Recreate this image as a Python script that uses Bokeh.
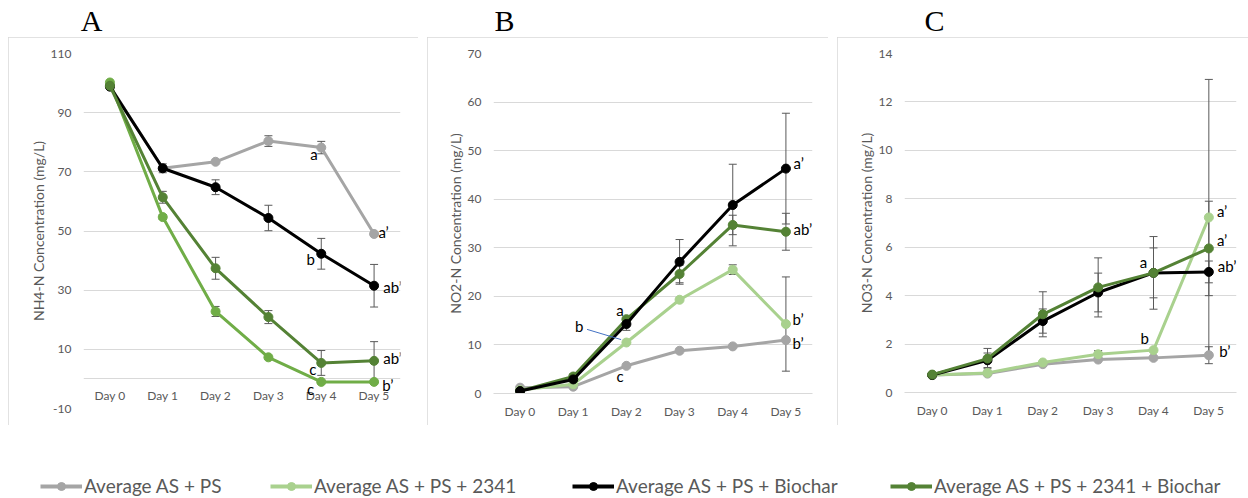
from bokeh.plotting import figure
from bokeh.models import (ColumnDataSource, FixedTicker, Whisker, TeeHead, Spacer,
                          Legend, LegendItem, Range1d)
from bokeh.layouts import row, column
from bokeh.core.properties import value
from bokeh.embed import file_html
from bokeh.resources import INLINE

# ---------------- data ----------------
days = ["Day 0", "Day 1", "Day 2", "Day 3", "Day 4", "Day 5"]
day_idx = [0, 1, 2, 3, 4, 5]
series_names = ["Average AS + PS", "Average AS + PS + 2341",
                "Average AS + PS + Biochar", "Average AS + PS + 2341 + Biochar"]
panel_letters = ["A", "B", "C"]

# Panel A: NH4-N (mg/L)
nh4_ps = [99.0, 71.2, 73.4, 80.4, 78.2, 49.0]
nh4_ps_err = [0, 0.6, 0, 1.8, 2.1, 0]
nh4_2341 = [100.2, 54.7, 22.8, 7.3, -1.0, -1.0]
nh4_2341_err = [0, 0.8, 1.7, 0, 0, 0]
nh4_bio = [98.8, 71.2, 64.8, 54.4, 42.3, 31.5]
nh4_bio_err = [0, 1.5, 2.5, 4.3, 5.2, 7.2]
nh4_2341bio = [99.1, 61.4, 37.4, 20.9, 5.4, 6.1]
nh4_2341bio_err = [0, 2.0, 3.7, 2.2, 4.2, 6.5]
nh4_ticks = [-10, 10, 30, 50, 70, 90, 110]
nh4_ann_text = ["a", "a\u2019", "b", "ab\u2019", "c", "ab\u2019", "c", "b\u2019"]
nh4_ann_x = [3.86, 5.18, 3.80, 5.35, 3.84, 5.35, 3.80, 5.26]
nh4_ann_y = [75.9, 49.5, 40.7, 31.2, 3.5, 7.2, -3.3, -1.9]

# Panel B: NO2-N (mg/L)
no2_ps = [1.2, 1.4, 5.7, 8.8, 9.7, 11.0]
no2_ps_err = [0, 0, 0, 0, 0, 0]
no2_2341 = [0.7, 1.9, 10.5, 19.3, 25.5, 14.3]
no2_2341_err = [0, 0, 0, 0, 1.0, 9.7]
no2_bio = [0.5, 2.9, 14.3, 27.1, 38.8, 46.3]
no2_bio_err = [0, 0, 1.3, 4.6, 8.4, 11.4]
no2_2341bio = [0.5, 3.5, 15.3, 24.6, 34.7, 33.3]
no2_2341bio_err = [0, 0.5, 0, 1.8, 2.0, 3.8]
no2_ticks = [0, 10, 20, 30, 40, 50, 60, 70]
no2_ann_text = ["a", "b", "c", "a\u2019", "ab\u2019", "b\u2019", "b\u2019"]
no2_ann_x = [1.88, 1.11, 1.88, 5.24, 5.32, 5.23, 5.23]
no2_ann_y = [17.1, 14.0, 3.7, 47.4, 33.8, 15.4, 10.3]
no2_pointer_x = [1.26, 1.90]
no2_pointer_y = [13.2, 11.1]

# Panel C: NO3-N (mg/L)
no3_ps = [0.72, 0.78, 1.17, 1.36, 1.43, 1.54]
no3_ps_err = [0, 0, 0, 0, 0, 0.35]
no3_2341 = [0.72, 0.81, 1.24, 1.58, 1.75, 7.23]
no3_2341_err = [0, 0, 0, 0.15, 0, 5.7]
no3_bio = [0.72, 1.33, 2.95, 4.13, 4.94, 4.98]
no3_bio_err = [0, 0.30, 0.50, 0.80, 1.50, 0.45]
no3_2341bio = [0.74, 1.40, 3.23, 4.34, 4.94, 5.95]
no3_2341bio_err = [0, 0.42, 0.93, 1.22, 1.03, 1.95]
no3_ticks = [0, 2, 4, 6, 8, 10, 12, 14]
no3_ann_text = ["a", "b", "a\u2019", "a\u2019", "ab\u2019", "b\u2019"]
no3_ann_x = [3.82, 3.84, 5.24, 5.24, 5.33, 5.29]
no3_ann_y = [5.37, 2.27, 7.51, 6.28, 5.24, 1.73]

# ---------------- styling ----------------
GRAY = "#A5A5A5"
LGREEN_A = "#70AD47"
LGREEN = "#A9D18E"
BLACK = "#000000"
DGREEN = "#548235"
GRID = "#D9D9D9"
TXT = "#595959"
ERR = "#595959"
FONT = "Lato"

PANEL_H = 388
HEADER_H = 37
LEGEND_H = 73


def make_panel(width, bl, br, bb, yr, yticks, ylabel, series, errs, colors,
               ann_text, ann_x, ann_y, axis_at_zero=False):
    styles = {"outline": "1px solid " + GRID, "outline-offset": "-1px"}
    p = figure(width=width, height=PANEL_H, x_range=Range1d(-0.5, 5.5),
               y_range=Range1d(*yr), output_backend="svg", toolbar_location=None,
               min_border_left=bl, min_border_right=br, min_border_top=16,
               min_border_bottom=bb, outline_line_color=None, styles=styles)
    p.title = None
    p.xgrid.visible = False
    p.ygrid.grid_line_color = GRID
    p.ygrid.grid_line_width = 1

    if axis_at_zero:
        # category axis crossing the value axis at 0
        p.xaxis.visible = False
        p.ygrid.ticker = FixedTicker(ticks=sorted(yticks + [0]))
        p.text(x=day_idx, y=[0] * len(day_idx), text=days, y_offset=17,
               text_font=value(FONT), text_font_size="12px", text_color=TXT,
               text_align="center", text_baseline="middle")
    else:
        p.xaxis.ticker = FixedTicker(ticks=day_idx)
        p.xaxis.major_label_overrides = {i: d for i, d in zip(day_idx, days)}
        p.xaxis.axis_line_color = GRID
        p.xaxis.major_tick_line_color = None
        p.xaxis.minor_tick_line_color = None
        p.xaxis.major_tick_out = 0
        p.xaxis.major_tick_in = 0
        p.xaxis.major_label_text_font = FONT
        p.xaxis.major_label_text_font_size = "12px"
        p.xaxis.major_label_text_color = TXT
        p.xaxis.major_label_standoff = 10

    p.yaxis.ticker = FixedTicker(ticks=yticks)
    p.yaxis.major_label_overrides = {t: str(t) for t in yticks}
    p.yaxis.axis_line_color = None
    p.yaxis.major_tick_line_color = None
    p.yaxis.minor_tick_line_color = None
    p.yaxis.major_tick_out = 0
    p.yaxis.major_tick_in = 0
    p.yaxis.major_label_text_font = FONT
    p.yaxis.major_label_text_font_size = "12px"
    p.yaxis.major_label_text_color = TXT
    p.yaxis.major_label_standoff = 12
    p.yaxis.axis_label = ylabel
    p.yaxis.axis_label_text_font = FONT
    p.yaxis.axis_label_text_font_style = "normal"
    p.yaxis.axis_label_text_font_size = "14px"
    p.yaxis.axis_label_text_color = TXT
    p.yaxis.axis_label_standoff = 1

    for vals, err, col in zip(series, errs, colors):
        xs = [d for d, e in zip(day_idx, err) if e > 0]
        src = ColumnDataSource(dict(
            x=xs,
            lo=[v - e for v, e in zip(vals, err) if e > 0],
            hi=[v + e for v, e in zip(vals, err) if e > 0]))
        if xs:
            w = Whisker(base="x", lower="lo", upper="hi", source=src,
                        dimension="height", line_color=ERR, line_width=1,
                        upper_head=TeeHead(size=8, line_color=ERR, line_width=1),
                        lower_head=TeeHead(size=8, line_color=ERR, line_width=1))
            p.add_layout(w)
    for vals, col in zip(series, colors):
        p.line(day_idx, vals, line_color=col, line_width=3)
        p.scatter(day_idx, vals, size=9, fill_color=col, line_color=col)

    p.text(x=ann_x, y=ann_y, text=ann_text, text_font=value(FONT),
           text_font_size="15px", text_color="#000000", text_align="center",
           text_baseline="middle")
    return p


pA = make_panel(410, 75, 18, 17, (-10, 110), nh4_ticks, "NH4-N Concentration (mg/L)",
                [nh4_ps, nh4_2341, nh4_bio, nh4_2341bio],
                [nh4_ps_err, nh4_2341_err, nh4_bio_err, nh4_2341bio_err],
                [GRAY, LGREEN_A, BLACK, DGREEN],
                nh4_ann_text, nh4_ann_x, nh4_ann_y, axis_at_zero=True)

pB = make_panel(401, 66, 16, 32, (0, 70), no2_ticks, "NO2-N Concentration (mg/L)",
                [no2_ps, no2_2341, no2_2341bio, no2_bio],
                [no2_ps_err, no2_2341_err, no2_2341bio_err, no2_bio_err],
                [GRAY, LGREEN, DGREEN, BLACK],
                no2_ann_text, no2_ann_x, no2_ann_y)
pB.line(no2_pointer_x, no2_pointer_y, line_color="#4472C4", line_width=1)

pC = make_panel(411, 67, 12, 33, (0, 14), no3_ticks, "NO3-N Concentration (mg/L)",
                [no3_ps, no3_2341, no3_bio, no3_2341bio],
                [no3_ps_err, no3_2341_err, no3_bio_err, no3_2341bio_err],
                [GRAY, LGREEN, BLACK, DGREEN],
                no3_ann_text, no3_ann_x, no3_ann_y)

# ---------------- header with panel letters ----------------
W = 1248
hdr = figure(width=W, height=HEADER_H, x_range=Range1d(0, W), y_range=Range1d(0, HEADER_H),
             output_backend="svg", toolbar_location=None, min_border=0,
             outline_line_color=None)
hdr.title = None
hdr.axis.visible = False
hdr.grid.visible = False
letter_x = [91, 504, 934]
hdr.text(x=letter_x, y=[17, 17, 17], text=panel_letters, text_font=value("Liberation Serif"),
         text_font_size="30px", text_color="#000000", text_align="center",
         text_baseline="middle")

# ---------------- legend ----------------
leg = figure(width=W, height=LEGEND_H, x_range=Range1d(0, 1), y_range=Range1d(0, 1),
             output_backend="svg", toolbar_location=None, min_border=0,
             outline_line_color=None)
leg.title = None
leg.axis.visible = False
leg.grid.visible = False
legend_colors = [GRAY, LGREEN, BLACK, DGREEN]
legend_x = [40, 270, 572, 890]
for name, col, lx in zip(series_names, legend_colors, legend_x):
    lr = leg.line([-5, -4], [-5, -4], line_color=col, line_width=4)
    sr = leg.scatter([-5], [-5], size=11, fill_color=col, line_color=col)
    lg = Legend(items=[LegendItem(label=name, renderers=[lr, sr])], location=(lx, 1),
                orientation="horizontal", glyph_width=42, glyph_height=20,
                label_height=20, label_standoff=2, padding=0, margin=0,
                border_line_color=None, background_fill_alpha=0,
                label_text_font=FONT, label_text_font_size="19px",
                label_text_color=TXT)
    leg.add_layout(lg, "center")

layout = column(hdr,
                row(Spacer(width=8, height=PANEL_H), column(pA),
                    Spacer(width=9, height=PANEL_H), column(pB),
                    Spacer(width=9, height=PANEL_H), column(pC)),
                leg)

open("out.html", "w").write(file_html(layout, INLINE))
